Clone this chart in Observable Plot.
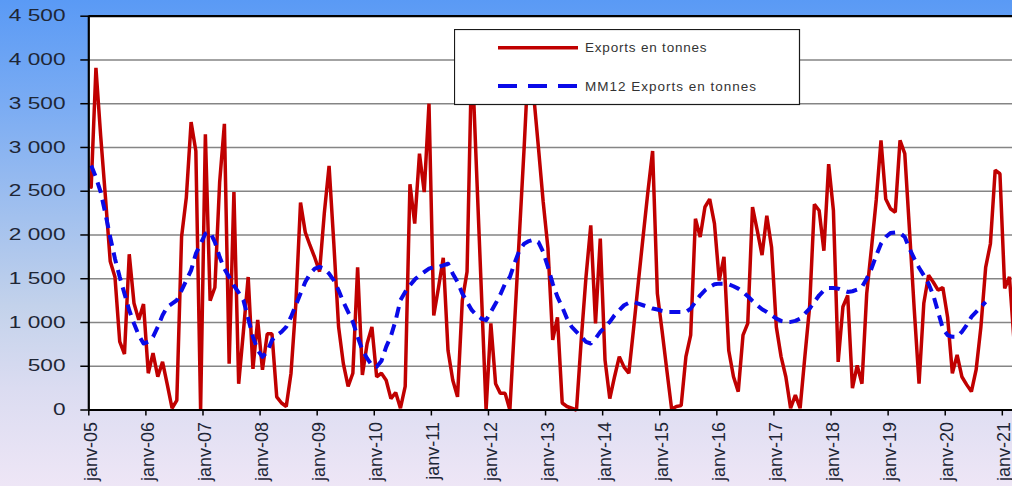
<!DOCTYPE html>
<html>
<head>
<meta charset="utf-8">
<script src="https://cdn.jsdelivr.net/npm/d3@7"></script>
<script src="https://cdn.jsdelivr.net/npm/@observablehq/plot@0.6"></script>
<style>
  html, body { margin: 0; padding: 0; }
  body {
    width: 1012px; height: 486px; overflow: hidden;
    background: linear-gradient(to bottom, #5a9af5 0%, #7bacf3 22%, #a3c1ee 45%, #c3d2eb 63%, #dbdcf1 80%, #eee6f6 100%);
    font-family: "Liberation Sans", Arial, sans-serif;
  }
  #wrap { position: relative; width: 1012px; height: 486px; }
  #wrap > svg.chart { position: absolute; left: 0; top: 0; }
  #wrap > svg#legend { position: absolute; left: 454px; top: 29px; }
</style>
</head>
<body>
<div id="wrap"></div>
<script>
// Monthly exports (tonnes), from janv-05
const exportsTonnes = [
  2545, 3910, 3130, 2430, 1700, 1520, 780, 640, 1780, 1220, 1030, 1210,
  420, 650, 380, 550, 290, 20, 110, 1980, 2430, 3290, 2960, 0,
  3150, 1250, 1400, 2600, 3270, 530, 2490, 300, 900, 1520, 470, 1030,
  460, 870, 870, 150, 80, 40, 420, 1200, 2370, 2030, 1880, 1740,
  1580, 2250, 2790, 1900, 950, 530, 270, 420, 1630, 400, 760, 950,
  380, 420, 340, 130, 200, 20, 270, 2580, 2130, 2930, 2490, 3500,
  1080, 1400, 1740, 680, 340, 150, 1250, 1580, 4100, 2730, 1370, 0,
  990, 300, 190, 190, 0, 1000, 2000, 3000, 4100, 3600, 3000, 2380,
  1850, 800, 1060, 80, 40, 20, 0, 800, 1520, 2110, 990, 1960,
  570, 130, 380, 610, 490, 420, 930, 1460, 1980, 2490, 2960, 1330,
  900, 450, 10, 40, 50, 610, 855, 2185, 1976, 2320, 2410, 2130,
  1480, 1750, 680, 380, 210, 855, 990, 2320, 2050, 1770, 2220, 1860,
  950, 610, 380, 20, 170, 20, 610, 1180, 2350, 2280, 1820, 2810,
  2280, 550, 1180, 1310, 250, 510, 300, 1330, 1850, 2400, 3080, 2410,
  2300, 2260, 3080, 2930, 2050, 1140, 300, 1220, 1540, 1460, 1370, 1400,
  1060, 420, 630, 380, 290, 210, 460, 950, 1630, 1900, 2740, 2700,
  1390, 1520, 760
];

// 12-month moving average as drawn (tonnes), from janv-05
const mm12 = [
  2793, 2660, 2489, 2242, 1976, 1729, 1520, 1330, 1140, 988, 855, 760,
  779, 836, 950, 1083, 1178, 1216, 1254, 1368, 1482, 1596, 1786, 1900,
  2014, 2033, 1919, 1748, 1615, 1520, 1420, 1340, 1254, 1045, 836, 684,
  608, 665, 798, 855, 893, 950, 1064, 1197, 1330, 1463, 1558, 1615,
  1634, 1615, 1558, 1482, 1368, 1235, 1121, 1007, 836, 684, 589, 513,
  494, 560, 722, 845, 1026, 1254, 1349, 1425, 1490, 1539, 1577, 1615,
  1634, 1634, 1653, 1672, 1558, 1463, 1330, 1235, 1140, 1083, 1045, 1026,
  1121, 1216, 1320, 1444, 1520, 1680, 1824, 1900, 1930, 1946, 1919, 1805,
  1634, 1444, 1292, 1178, 1045, 950, 893, 836, 779, 760, 817, 893,
  950, 1007, 1083, 1140, 1197, 1224, 1235, 1216, 1197, 1178, 1159, 1148,
  1132, 1121, 1121, 1121, 1121, 1121, 1159, 1235, 1311, 1368, 1406, 1436,
  1444, 1444, 1436, 1414, 1387, 1349, 1300, 1246, 1197, 1151, 1121, 1083,
  1045, 1018, 1007, 1007, 1018, 1045, 1102, 1159, 1235, 1311, 1368, 1395,
  1395, 1387, 1368, 1349, 1357, 1376, 1406, 1501, 1615, 1767, 1900, 1976,
  2022, 2029, 2022, 1976, 1843, 1729, 1626, 1539, 1444, 1311, 1121, 931,
  855, 836, 836, 893, 969, 1064, 1121, 1178, 1235
];

const xTickLabels = ["janv-05","janv-06","janv-07","janv-08","janv-09","janv-10","janv-11","janv-12",
  "janv-13","janv-14","janv-15","janv-16","janv-17","janv-18","janv-19","janv-20","janv-21"];
const yTickValues = [0, 500, 1000, 1500, 2000, 2500, 3000, 3500, 4000, 4500];
const seriesNames = ["Exports en tonnes", "MM12 Exports en tonnes"];
const seriesColors = ["#c00000", "#0a0ae8"];

// tables built from the arrays (x = month index, plotted mid-month)
const exportRows = exportsTonnes.map((v, i) => ({m: i + 0.5, v}));
const maRows = mm12.map((v, i) => ({m: i + 0.5, v}));
const xTickMonths = xTickLabels.map((_, k) => k * 12);
const fmtY = d => d3.format(",")(d).replace(/,/g, " ");

const chart = Plot.plot({
  width: 1012,
  height: 486,
  marginLeft: 88.3,
  marginRight: 0,
  marginTop: 15.7,
  marginBottom: 76.5,
  style: {background: "transparent", fontFamily: "'Liberation Sans', Arial, sans-serif", overflow: "visible"},
  x: {domain: [0, 194.14], label: null},
  y: {domain: [0, 4500], label: null},
  marks: [
    Plot.frame({fill: "white", stroke: "none"}),
    Plot.gridY(yTickValues.filter(d => d > 0 && d < 4500), {stroke: "#858585", strokeOpacity: 1, strokeWidth: 1.5}),
    Plot.axisY({ticks: yTickValues, tickFormat: fmtY, tickSize: 8, tickPadding: 15.3, fontSize: 16.3,
                stroke: "#000", strokeWidth: 1.5, fill: "#1e2636", label: null}),
    Plot.axisX({ticks: xTickMonths, tickFormat: d => xTickLabels[Math.round(d / 12)], tickSize: 6, tickPadding: 6,
                tickRotate: -90, fontSize: 18, stroke: "#000", strokeWidth: 1.5, fill: "#1e2636", label: null}),
    Plot.line(exportRows, {x: "m", y: "v", stroke: seriesColors[0], strokeWidth: 3.5, strokeLinejoin: "miter"}),
    Plot.line(maRows, {x: "m", y: "v", stroke: seriesColors[1], strokeWidth: 4, strokeDasharray: "11,7", strokeLinecap: "butt"}),
    Plot.ruleY([0], {stroke: "#000", strokeWidth: 2.2}),
    Plot.ruleY([4500], {stroke: "#000", strokeWidth: 2.2}),
    Plot.ruleX([0], {stroke: "#000", strokeWidth: 2.2})
  ]
});
chart.classList.add("chart");

// widen the y tick labels horizontally, as in the source image
d3.select(chart).selectAll('g[aria-label="y-axis tick label"] text').each(function() {
  const t = this.getAttribute("transform") || "";
  this.setAttribute("transform", t + " scale(1.39,1)");
});
d3.select(chart).selectAll('g[aria-label="x-axis tick label"]').attr("transform", function() {
  const t = this.getAttribute("transform") || "";
  return t + " translate(2.3,0)";
});

document.getElementById("wrap").appendChild(chart);

// legend box drawn over the plot
const lg = d3.select("#wrap").append("svg").attr("id", "legend").attr("width", 347).attr("height", 77)
  .style("position", "absolute").style("left", "454px").style("top", "29px");
lg.append("rect").attr("x", 0.5).attr("y", 0.5).attr("width", 345).attr("height", 75)
  .attr("fill", "#fff").attr("stroke", "#1a1a1a").attr("stroke-width", 1.2);
const rowsY = [18.7, 57];
seriesNames.forEach((name, k) => {
  lg.append("line").attr("x1", 44).attr("x2", 124).attr("y1", rowsY[k]).attr("y2", rowsY[k])
    .attr("stroke", seriesColors[k]).attr("stroke-width", k ? 4 : 3.5)
    .attr("stroke-dasharray", k ? "19,11" : null);
  lg.append("text").attr("x", 131).attr("y", rowsY[k]).attr("dy", "0.35em")
    .attr("font-size", 13.5).attr("letter-spacing", k ? "1px" : "0.8px")
    .attr("fill", "#333").attr("font-family", "'Liberation Sans', Arial, sans-serif")
    .text(name);
});
</script>
</body>
</html>
